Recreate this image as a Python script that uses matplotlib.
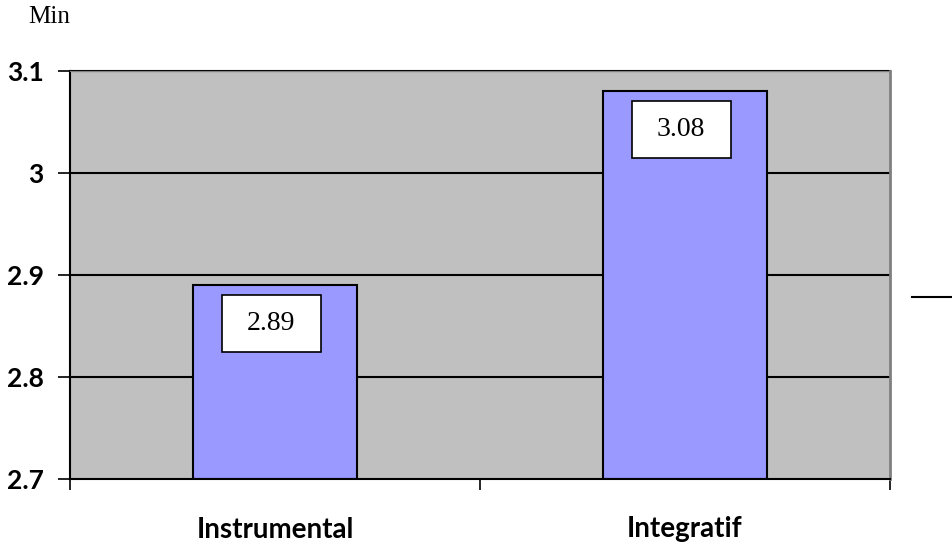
import matplotlib
matplotlib.use("Agg")
import matplotlib.pyplot as plt
import matplotlib.transforms as mtransforms
from matplotlib.patches import Rectangle
from matplotlib.lines import Line2D

categories = ["Instrumental", "Integratif"]
values = [2.89, 3.08]
y_ticks = [2.7, 2.8, 2.9, 3.0, 3.1]
y_tick_labels = ["2.7", "2.8", "2.9", "3", "3.1"]
y_unit = "Min"

fig = plt.figure(figsize=(9.52, 5.45), dpi=100)
ax = fig.add_axes([70/952, 1-479/545, 820/952, 408/545])
ax.set_facecolor("#C0C0C0")

x = [i + 0.5 for i in range(len(categories))]
ax.bar(x, [v - 2.7 for v in values], bottom=2.7, width=0.4, color="#9999FF",
       edgecolor="black", linewidth=1.5, zorder=3)

ax.set_xlim(0, len(categories))
ax.set_ylim(2.7, 3.1)
ax.set_yticks(y_ticks)
ax.set_yticklabels(y_tick_labels)
ax.set_xticks([0, 1, 2])
ax.set_xticklabels([])
ax.set_xticks(x, minor=True)
ax.set_xticklabels(categories, minor=True)
ax.tick_params(axis="x", which="minor", length=0, pad=27)
ax.tick_params(axis="x", which="major", length=8, width=1.2, direction="out")
ax.tick_params(axis="y", length=9, width=1.2, direction="out", pad=10)
for lab in ax.get_yticklabels():
    lab.set_fontfamily("Lato")
    lab.set_fontweight("bold")
    lab.set_fontsize(19)
for lab in ax.get_xticklabels(minor=True):
    lab.set_fontfamily("Lato")
    lab.set_fontweight("bold")
    lab.set_fontsize(20)

for yv in y_ticks[1:]:
    ax.axhline(yv, color="black", linewidth=1.5, zorder=2, clip_on=False)

ax.spines["left"].set_linewidth(1.5)
ax.spines["bottom"].set_linewidth(1.5)
ax.spines["bottom"].set_zorder(4)
ax.spines["top"].set_color("#808080")
ax.spines["right"].set_color("#808080")
ax.spines["right"].set_linewidth(2)

for xi, v in zip(x, values):
    trans = fig.dpi_scale_trans + mtransforms.ScaledTranslation(xi, v, ax.transData)
    ax.add_patch(Rectangle((-0.535, -0.67), 0.99, 0.57, transform=trans,
                           facecolor="white", edgecolor="black", linewidth=1.2,
                           zorder=5, clip_on=False))
    ax.text(-0.04, -0.385, f"{v:.2f}", transform=trans, ha="center", va="center",
            fontsize=20, fontfamily="Liberation Serif", zorder=6)

fig.text(28/952, 1-17/545, y_unit, fontsize=18, fontfamily="Liberation Serif",
         ha="left", va="center")

fig.add_artist(Line2D([912/952, 1.0], [1-297/545, 1-297/545], color="black",
                      linewidth=1.5, transform=fig.transFigure))

fig.savefig("out.png", dpi=100)
